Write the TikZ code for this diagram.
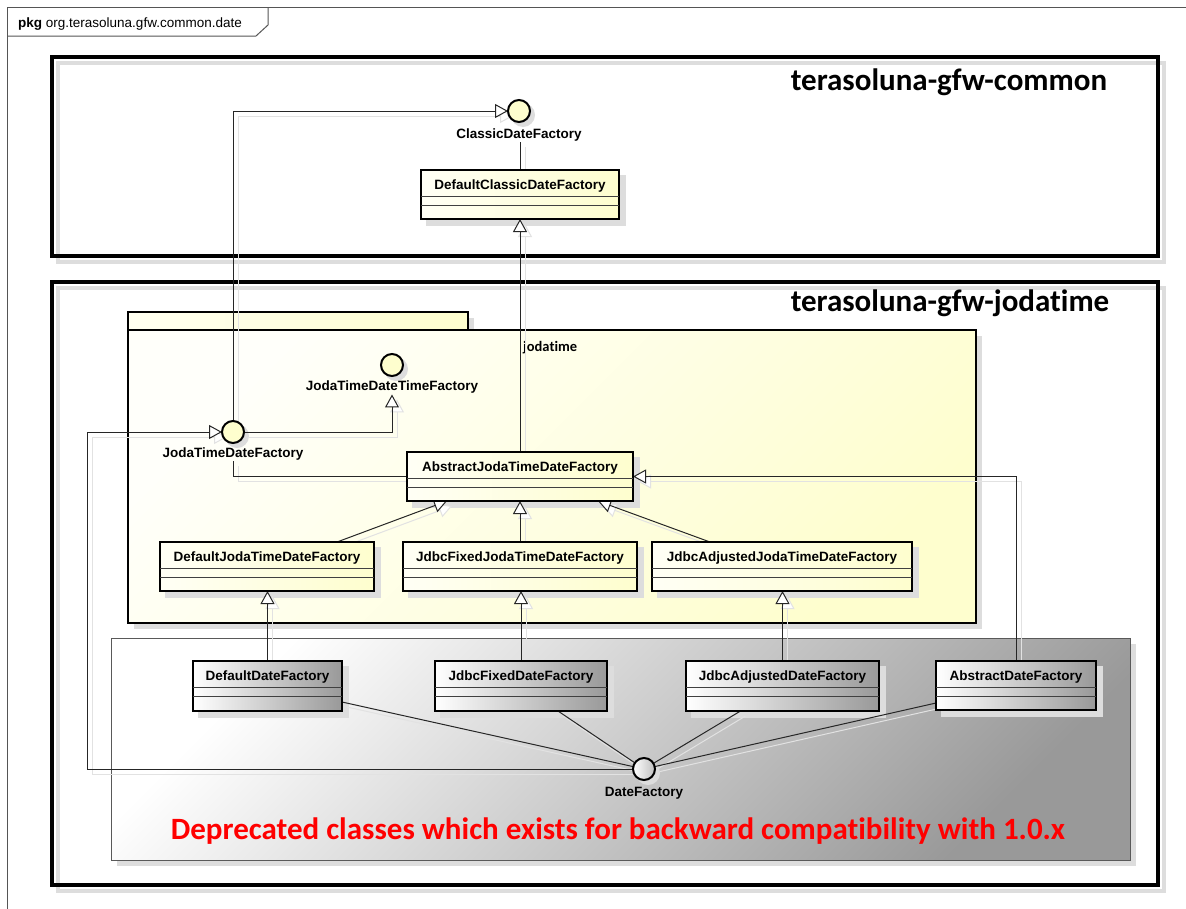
\documentclass[tikz,border=0pt]{standalone}
\usepackage{fontspec}
\setmainfont{Liberation Sans}
\newfontfamily\calfont[Ligatures={TeX,NoCommon}]{Carlito}
\usetikzlibrary{arrows.meta,calc}
\pgfdeclarelayer{bg}\pgfdeclarelayer{shadows}\pgfdeclarelayer{edges}
\pgfsetlayers{bg,shadows,edges,main}
\definecolor{yel}{HTML}{FEFECE}
\definecolor{shd}{HTML}{DDDDDD}
\definecolor{lshd}{HTML}{E2E2E2}
\definecolor{dgray}{HTML}{999999}
\definecolor{framec}{HTML}{555555}
\tikzset{
 clsbox/.style={draw=black, line width=2pt, inner sep=0pt, outer sep=0pt},
 yelfill/.style={left color=yel!20!white, right color=yel},
 grayfill/.style={left color=white, right color=dgray},
 clsname/.style={font=\fontsize{13.5}{16}\selectfont\bfseries, inner sep=0pt},
 ifc/.style={circle, draw=black, line width=2pt, minimum size=22pt, inner sep=0pt, outer sep=0pt},
 iflabel/.style={font=\fontsize{13.5}{16}\selectfont\bfseries, inner sep=1pt},
 conn/.style={draw=black!85, line width=1pt, preaction={draw=lshd, line width=1pt, transform canvas={shift={(5pt,-5pt)}}}},
 gen/.style={conn, -{Triangle[length=13pt,width=14pt,fill=white,line width=1pt]}},
 title/.style={font=\calfont\bfseries\fontsize{31}{36}\selectfont, inner sep=0pt, anchor=base},
}
\newcommand{\umlcls}[7]{%
 \pgfmathsetmacro{\clsw}{#4-#2}\pgfmathsetmacro{\clsh}{#5-#3}%
 \begin{pgfonlayer}{shadows}
 \fill[shd] (#2+5,#3+5) rectangle (#4+7,#5+7);
 \end{pgfonlayer}
 \node[clsbox,#7,minimum width=\clsw pt,minimum height=\clsh pt,anchor=north west] (#1) at (#2,#3) {};
 \node[clsname] (#1-t) at ($(#1.north)+(0,16)$) {#6};
 \draw[black!75, line width=1pt] ($(#1.north west)+(0,26)$) -- ($(#1.north east)+(0,26)$);
 \draw[black!75, line width=1pt] ($(#1.north west)+(0,35)$) -- ($(#1.north east)+(0,35)$);
}
\newcommand{\umlifc}[6]{% name, x, y, label, label y, fill
 \begin{pgfonlayer}{shadows}
 \fill[shd] (#2+4,#3+4) circle (12pt);
 \end{pgfonlayer}
 \node[ifc,#6] (#1) at (#2,#3) {};
 \node[iflabel] (#1l) at (#2,#5) {#4};
}
\begin{document}
\begin{tikzpicture}[x=1pt,y=-1pt]
\path[use as bounding box] (0,0) rectangle (1186,908);
\clip (0,0) rectangle (1186,908);
\begin{pgfonlayer}{bg}
\fill[white] (0,0) rectangle (1186,908);
% outer package frame
\draw[framec, line width=1pt] (7,930) -- (7,7) -- (1210,7);
\draw[framec, line width=1pt] (7,36) -- (256,36) -- (268,25) -- (268,7);
\node[anchor=base west, inner sep=0pt, font=\fontsize{13.5}{16}\selectfont] (pkgt) at (18,27) {\textbf{pkg} org.terasoluna.gfw.common.date};
% common
\draw[shd, line width=4pt] (58,63) rectangle (1164,262);
\draw[black, line width=4pt] (52,57) rectangle (1158,256);
\node[title] (tcommon) at (949,90) {terasoluna-gfw-common};
% jodatime module
\draw[shd, line width=4pt] (58,288) rectangle (1164,891);
\draw[black, line width=4pt] (52,282) rectangle (1158,885);
\node[title] (tjoda) at (950,311) {terasoluna-gfw-jodatime};
% jodatime package
\fill[shd] (134,318) rectangle (474,336);
\fill[shd] (134,336) rectangle (982,629);
\draw[line width=2pt, left color=yel!30!white, right color=yel] (128,312) rectangle (468,330);
\draw[line width=2pt, top color=yel!10!white, bottom color=yel, shading angle=45] (128,330) rectangle (976,623);
% deprecated area
\fill[shd] (117,644) rectangle (1136,866);
\draw[black!65, line width=1pt, top color=white, bottom color=dgray, shading angle=45] (111,638) rectangle (1130,860);
\node[anchor=base west, inner sep=0pt, font=\calfont\bfseries\fontsize{14.5}{17}\selectfont] (jlabel) at (523,351) {jodatime};
\node[anchor=base, inner sep=0pt, text=red, font=\calfont\bfseries\fontsize{31}{36}\selectfont] (note) at (618,839) {Deprecated classes which exists for backward compatibility with 1.0.x};
\end{pgfonlayer}

% interfaces
\umlifc{cdf}{519}{111}{ClassicDateFactory}{135}{fill=yel}
\umlifc{jtdtf}{392}{365}{JodaTimeDateTimeFactory}{387}{fill=yel}
\umlifc{jtdf}{233}{432}{JodaTimeDateFactory}{454}{fill=yel}
\umlifc{df}{644}{769}{DateFactory}{793}{left color=white, right color=black!25}

% classes
\umlcls{dcdf}{421}{170}{619}{219}{DefaultClassicDateFactory}{yelfill}
\umlcls{ajtdf}{407}{452}{633}{501}{AbstractJodaTimeDateFactory}{yelfill}
\umlcls{djtdf}{160}{542}{374}{591}{DefaultJodaTimeDateFactory}{yelfill}
\umlcls{jfjtdf}{403}{542}{637}{591}{JdbcFixedJodaTimeDateFactory}{yelfill}
\umlcls{jajtdf}{652}{542}{912}{591}{JdbcAdjustedJodaTimeDateFactory}{yelfill}
\umlcls{ddf}{193}{661}{342}{711}{DefaultDateFactory}{grayfill}
\umlcls{jfdf}{435}{661}{607}{711}{JdbcFixedDateFactory}{grayfill}
\umlcls{jadf}{686}{661}{879}{711}{JdbcAdjustedDateFactory}{grayfill}
\umlcls{adf}{936}{661}{1096}{710}{AbstractDateFactory}{grayfill}

\coordinate (lb) at (87,432);

\begin{pgfonlayer}{edges}
\draw[gen] (jtdf.north) |- (cdf.west);
\draw[conn] (dcdf.north |- cdfl.south) -- (dcdf.north);
\draw[gen] (ajtdf.north) -- (ajtdf.north |- dcdf.south);
\draw[gen] (jtdf.east) -| (jtdtf.center |- jtdtfl.south);
\draw[conn] (jtdf.center |- jtdfl.south) |- (ajtdf.west);
\draw[gen] ($(djtdf.north)+(70,0)$) -- ($(ajtdf.south)+(-73,0)$);
\draw[gen] (jfjtdf.north) -- (ajtdf.south);
\draw[gen] ($(jajtdf.north)+(-72,0)$) -- ($(ajtdf.south)+(78,0)$);
\draw[gen] (ddf.north) -- (ddf.north |- djtdf.south);
\draw[gen] (jfdf.north) -- (jfdf.north |- jfjtdf.south);
\draw[gen] (jadf.north) -- (jadf.north |- jajtdf.south);
\draw[gen] (adf.north) |- (ajtdf.east);
\draw[conn] ($(ddf.south east)+(0,-9)$) -- (df);
\draw[conn] ($(jfdf.south)+(37,0)$) -- (df);
\draw[conn] ($(jadf.south)+(-42,0)$) -- (df);
\draw[conn] ($(adf.south west)+(0,-7)$) -- (df);
\draw[gen] (df.west) -| (lb) -- (jtdf.west);
\end{pgfonlayer}
\end{tikzpicture}
\end{document}
